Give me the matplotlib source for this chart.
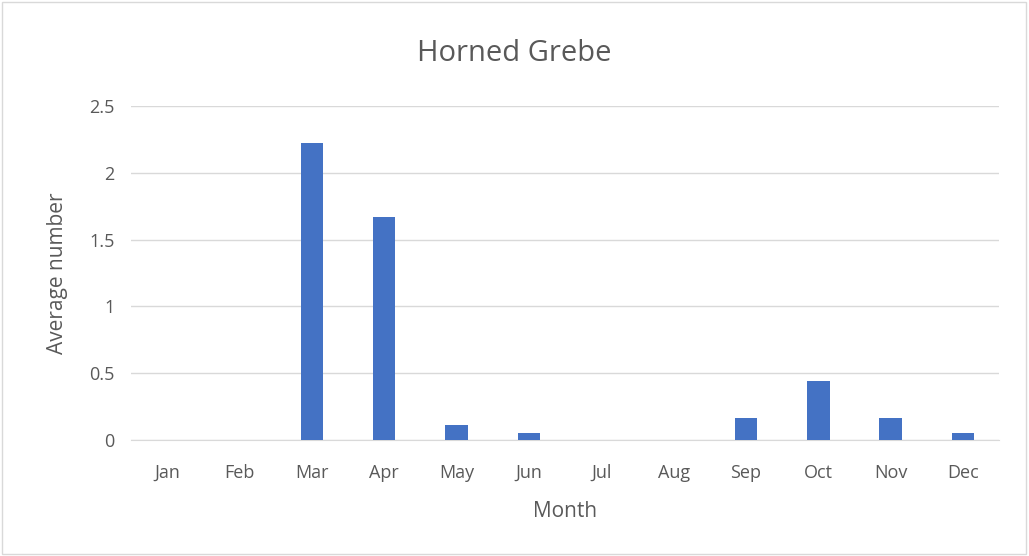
import matplotlib
matplotlib.use("Agg")
import matplotlib.pyplot as plt
from matplotlib.patches import Rectangle

# monthly averages
months = ["Jan", "Feb", "Mar", "Apr", "May", "Jun",
          "Jul", "Aug", "Sep", "Oct", "Nov", "Dec"]
avg_number = [0, 0, 2.222, 1.667, 0.111, 0.056,
              0, 0, 0.167, 0.444, 0.167, 0.056]
yticks = [0, 0.5, 1, 1.5, 2, 2.5]
ytick_labels = ["0", "0.5", "1", "1.5", "2", "2.5"]

plt.rcParams["font.family"] = ["Open Sans", "DejaVu Sans"]
text_col = "#595959"

fig = plt.figure(figsize=(10.29, 5.56), dpi=100)
ax = fig.add_axes([0.1273, 0.2086, 0.8437, 0.6008])

x = range(len(months))
ax.bar(x, avg_number, width=0.31, color="#4472C4", zorder=3)

ax.set_xlim(-0.5, len(months) - 0.5)
ax.set_ylim(0, 2.5)
ax.set_xticks(list(x))
ax.set_xticklabels(months)
ax.set_yticks(yticks)
ax.set_yticklabels(ytick_labels)
ax.tick_params(length=0, labelsize=13, colors=text_col)
ax.tick_params(axis="x", pad=17)
ax.tick_params(axis="y", pad=12)
ax.grid(axis="y", color="#d9d9d9", linewidth=1, zorder=0)

for side in ["top", "right", "left"]:
    ax.spines[side].set_visible(False)
ax.spines["bottom"].set_color("#d9d9d9")

ax.set_xlabel("Month", fontsize=15, color=text_col, labelpad=14)
ax.set_ylabel("Average number", fontsize=15, color=text_col, labelpad=15)
fig.text(0.5, 0.903, "Horned Grebe", ha="center", va="center",
         fontsize=21, color=text_col)

# light frame around the whole chart
fig.patches.append(Rectangle((0.002, 0.003), 0.995, 0.993, transform=fig.transFigure,
                             fill=False, edgecolor="#d9d9d9", linewidth=1))

fig.savefig("out.png", dpi=100)
